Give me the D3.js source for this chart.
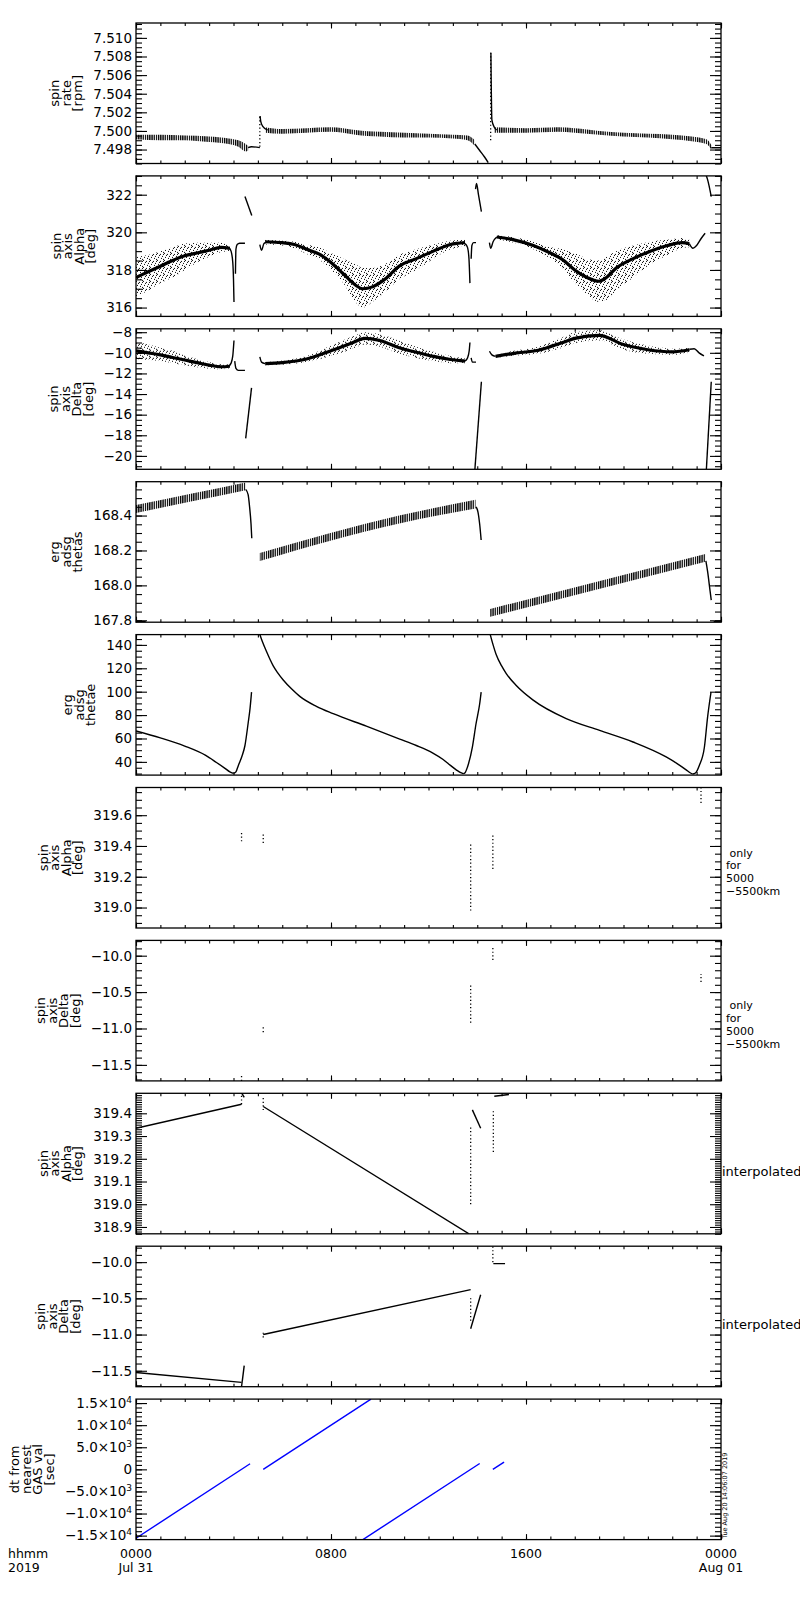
<!DOCTYPE html>
<html>
<head>
<meta charset="utf-8">
<script src="https://cdn.jsdelivr.net/npm/d3@7"></script>
<style>
body { margin: 0; background: #fff; }
svg { display: block; }
text { font-family: "DejaVu Sans", sans-serif; fill: #000; }
</style>
</head>
<body>
<svg id="chart" width="800" height="1600"></svg>
<script>
// ---- x axis (hours of 2019 Jul 31) ----
const hourTicks = [0, 8, 16, 24];
const hourLabels = [["0000", "Jul 31"], ["0800", ""], ["1600", ""], ["0000", "Aug 01"]];

// ---- tick values per panel ----
const rateTicks = [7.498, 7.500, 7.502, 7.504, 7.506, 7.508, 7.510];
const alphaTicks = [316, 318, 320, 322];
const deltaTicks = [-20, -18, -16, -14, -12, -10, -8];
const thetasTicks = [167.8, 168.0, 168.2, 168.4];
const thetaeTicks = [40, 60, 80, 100, 120, 140];
const alphaOnlyTicks = [319.0, 319.2, 319.4, 319.6];
const deltaOnlyTicks = [-11.5, -11.0, -10.5, -10.0];
const alphaInterpTicks = [318.9, 319.0, 319.1, 319.2, 319.3, 319.4];
const deltaInterpTicks = [-11.5, -11.0, -10.5, -10.0];
const dtTicks = [-15000, -10000, -5000, 0, 5000, 10000, 15000];
const dtTickLabels = [["−1.5×10", "4"], ["−1.0×10", "4"], ["−5.0×10", "3"], ["0", ""], ["5.0×10", "3"], ["1.0×10", "4"], ["1.5×10", "4"]];

// ---- spin rate [rpm]: zigzag bands [h, lo, hi] and lines [h, v] ----
const rateBandA = [[0, 7.4991, 7.4996], [1, 7.4990, 7.4996], [2, 7.4990, 7.4995], [3, 7.4988, 7.4994], [3.8, 7.4986, 7.4992], [4.2, 7.4983, 7.4990], [4.5, 7.4978, 7.4986], [4.6, 7.4979, 7.4984]];
const rateBandB = [[5.3, 7.4998, 7.5004], [6, 7.4997, 7.5002], [7, 7.4998, 7.5003], [8, 7.4999, 7.5004], [8.5, 7.4998, 7.5003], [9, 7.4996, 7.5001], [10, 7.4994, 7.4999], [11, 7.4993, 7.4998], [12, 7.4993, 7.4997], [13, 7.4992, 7.4996], [13.6, 7.4990, 7.4995], [13.9, 7.4984, 7.4990]];
const rateBandC = [[14.7, 7.4998, 7.5004], [16, 7.4998, 7.5003], [17.3, 7.4999, 7.5004], [18, 7.4998, 7.5003], [19, 7.4996, 7.5000], [20, 7.4994, 7.4998], [21, 7.4993, 7.4997], [22, 7.4991, 7.4996], [22.8, 7.4989, 7.4994], [23.4, 7.4986, 7.4991], [23.6, 7.4980, 7.4985]];
const rateLines = [
  [[4.6, 7.4982], [4.74, 7.4983], [5.08, 7.4982]],
  [[5.09, 7.5016], [5.12, 7.5010], [5.2, 7.5005], [5.4, 7.5001]],
  [[13.9, 7.4986], [14.1, 7.4979], [14.3, 7.4972], [14.45, 7.4966]],
  [[14.56, 7.5084], [14.6, 7.5012], [14.7, 7.5004], [14.8, 7.5001]],
  [[23.6, 7.4982], [24, 7.4982]]
];
const rateDots = [[5.08, 7.4983, 7.5016], [14.55, 7.4990, 7.5084]];

// ---- spin axis Alpha: scatter bands [h, lo, mid, hi] ----
const alphaBandA = [[0, 316.6, 317.6, 318.7], [0.5, 316.9, 317.9, 318.8], [1, 317.3, 318.2, 319.0], [1.5, 317.6, 318.5, 319.2], [2, 318.0, 318.75, 319.4], [2.5, 318.4, 318.9, 319.45], [3, 318.7, 319.05, 319.45], [3.5, 318.95, 319.2, 319.45], [3.85, 319.0, 319.15, 319.35]];
const alphaBandB = [[5.3, 319.35, 319.5, 319.6], [6, 319.3, 319.45, 319.55], [6.5, 319.15, 319.35, 319.5], [7, 318.85, 319.1, 319.35], [7.5, 318.55, 318.85, 319.2], [8, 318.0, 318.4, 318.9], [8.5, 317.3, 317.8, 318.6], [9, 316.3, 317.2, 318.3], [9.3, 316.0, 317.0, 318.1], [9.7, 316.3, 317.1, 318.1], [10.2, 316.8, 317.5, 318.3], [10.8, 317.5, 318.2, 318.8], [11.5, 318.0, 318.6, 319.1], [12.2, 318.6, 319.0, 319.35], [12.9, 319.1, 319.35, 319.55], [13.5, 319.25, 319.45, 319.6]];
const alphaBandC = [[14.8, 319.6, 319.75, 319.85], [15.5, 319.45, 319.6, 319.75], [16.3, 319.1, 319.3, 319.5], [17, 318.6, 318.9, 319.2], [17.5, 318.1, 318.55, 319.1], [18, 317.3, 318.0, 318.9], [18.5, 316.7, 317.6, 318.6], [19, 316.3, 317.4, 318.5], [19.3, 316.4, 317.6, 318.7], [19.7, 316.9, 318.1, 319.0], [20.4, 317.6, 318.6, 319.3], [21.1, 318.3, 319.0, 319.5], [21.8, 318.8, 319.3, 319.6], [22.4, 319.15, 319.45, 319.7], [22.7, 319.2, 319.4, 319.6]];
const alphaLines = [
  [[3.8, 319.2], [3.9, 319.0], [3.97, 318.4], [4.0, 317.5], [4.02, 316.3]],
  [[4.08, 317.8], [4.1, 319.1], [4.15, 319.35], [4.25, 319.42], [4.47, 319.42]],
  [[4.47, 321.9], [4.75, 320.9]],
  [[5.08, 319.35], [5.15, 319.05], [5.25, 319.4], [5.4, 319.5]],
  [[13.5, 319.4], [13.6, 319.2], [13.66, 318.6], [13.7, 317.3]],
  [[13.75, 318.6], [13.78, 319.3], [13.85, 319.45], [13.95, 319.45]],
  [[13.93, 322.3], [13.97, 322.6], [14.05, 322.0], [14.17, 321.1]],
  [[14.5, 319.45], [14.55, 319.15], [14.65, 319.5], [14.8, 319.75]],
  [[22.7, 319.4], [22.85, 319.15], [23.0, 319.3], [23.2, 319.7], [23.35, 319.95]],
  [[23.37, 323.1], [23.45, 322.8], [23.6, 321.9]]
];

// ---- spin axis Delta ----
const deltaBandA = [[0, -10.6, -9.8, -8.9], [0.5, -10.7, -10.0, -9.2], [1, -10.8, -10.2, -9.5], [1.5, -11.0, -10.45, -9.8], [2, -11.2, -10.7, -10.2], [2.5, -11.4, -10.95, -10.6], [3, -11.55, -11.2, -10.9], [3.5, -11.6, -11.35, -11.1], [3.85, -11.5, -11.3, -11.1]];
const deltaBandB = [[5.3, -11.2, -11.05, -10.9], [6, -11.15, -10.95, -10.75], [7, -10.9, -10.6, -10.3], [8, -10.3, -9.8, -9.3], [8.8, -9.7, -9.1, -8.5], [9.4, -9.2, -8.6, -8.0], [10, -9.4, -8.8, -8.2], [10.8, -10.1, -9.5, -8.8], [11.5, -10.5, -9.95, -9.4], [12.2, -10.8, -10.35, -9.9], [12.9, -11.0, -10.65, -10.3], [13.5, -11.0, -10.8, -10.55]];
const deltaBandC = [[14.75, -10.5, -10.35, -10.2], [15.5, -10.3, -10.05, -9.8], [16.5, -10.1, -9.75, -9.4], [17.5, -9.5, -9.0, -8.5], [18, -9.1, -8.6, -8.0], [19, -8.8, -8.3, -7.8], [20, -9.7, -9.2, -8.7], [21, -10.1, -9.7, -9.3], [22, -10.2, -9.9, -9.6], [22.7, -10.0, -9.7, -9.5]];
const deltaLines = [
  [[3.8, -11.3], [3.9, -11.0], [3.97, -10.3], [4.02, -8.8]],
  [[4.05, -10.8], [4.1, -11.5], [4.2, -11.7], [4.47, -11.7]],
  [[4.5, -18.3], [4.74, -13.4]],
  [[5.08, -10.4], [5.15, -10.9], [5.3, -11.05]],
  [[13.5, -10.8], [13.6, -10.5], [13.67, -9.8], [13.7, -9.0]],
  [[13.75, -10.5], [13.8, -10.9], [13.95, -10.9]],
  [[13.9, -21.4], [14.17, -12.8]],
  [[14.5, -9.85], [14.6, -10.2], [14.75, -10.35]],
  [[22.7, -9.65], [22.9, -9.6], [23.1, -10.0], [23.3, -10.3]],
  [[23.4, -21.3], [23.6, -12.8]]
];

// ---- erg adsg thetas: zigzag bands [h, lo, hi] ----
const thetasBandA = [[0, 168.415, 168.46], [2.25, 168.48, 168.525], [4.5, 168.545, 168.59]];
const thetasBandB = [[5.08, 168.14, 168.185], [10.8, 168.355, 168.40], [13.93, 168.44, 168.49]];
const thetasBandC = [[14.53, 167.82, 167.865], [23.36, 168.135, 168.18]];
const thetasLines = [
  [[4.5, 168.55], [4.6, 168.52], [4.66, 168.45], [4.72, 168.35], [4.75, 168.27]],
  [[13.95, 168.45], [14.03, 168.42], [14.1, 168.35], [14.16, 168.26]],
  [[23.38, 168.14], [23.45, 168.08], [23.55, 167.97], [23.6, 167.915]],
  [[0, 167.792], [0.4, 167.792]],
  [[23.7, 167.792], [24, 167.792]]
];

// ---- erg adsg thetae ----
const thetaeLines = [
  [[0, 66.4], [1, 60.5], [2, 53.5], [2.86, 45.5], [3.3, 39.5], [3.65, 34.5], [3.85, 31.5], [4.0, 30.2]],
  [[4.0, 30.2], [4.1, 31.5], [4.2, 37], [4.35, 45], [4.47, 54], [4.6, 73], [4.68, 86], [4.74, 99.6]],
  [[5.08, 149], [5.2, 142], [5.35, 134.5], [5.5, 127.5], [5.63, 122], [5.8, 116.5], [6.04, 110], [6.4, 102], [6.72, 96], [7.4, 87.5], [8.09, 81.2], [9.45, 70.5], [10.82, 59.5], [11.5, 54], [12.18, 47.5], [12.6, 42], [12.9, 37], [13.15, 33], [13.3, 31], [13.42, 30.0]],
  [[13.42, 30.0], [13.5, 30.8], [13.6, 35.7], [13.8, 52.7], [13.95, 72.6], [14.1, 89.7], [14.16, 99.6]],
  [[14.53, 149], [14.65, 140], [14.78, 131.5], [15.0, 122], [15.19, 115.5], [15.6, 105.3], [16.28, 93], [17.65, 77], [19.02, 66.9], [20.39, 57], [21.75, 44.2], [22.2, 38.5], [22.57, 33.2], [22.75, 30.5], [22.84, 29.6]],
  [[22.84, 29.6], [22.95, 30.5], [23.11, 37], [23.32, 52.7], [23.45, 78.3], [23.59, 99.6]]
];

// ---- spin axis only for 5000-5500km: vertical dot runs [h, lo, hi] ----
const alphaOnlyDots = [[4.33, 319.43, 319.49], [5.22, 319.42, 319.48], [13.73, 318.98, 319.42], [14.64, 319.25, 319.48], [23.18, 319.68, 319.78]];
const deltaOnlyDots = [[4.33, -11.72, -11.64], [5.22, -11.05, -10.97], [13.73, -10.92, -10.38], [14.64, -10.06, -9.88], [23.18, -10.36, -10.25]];

// ---- spin axis interpolated ----
const alphaInterpLines = [
  [[0, 319.334], [4.33, 319.44]],
  [[4.33, 319.49], [4.44, 319.47]],
  [[5.22, 319.43], [13.66, 318.87]],
  [[13.8, 319.415], [14.14, 319.334]],
  [[14.7, 319.475], [15.3, 319.483]]
];
const alphaInterpDots = [[4.33, 319.44, 319.49], [5.22, 319.414, 319.473], [13.73, 319.0, 319.34], [14.66, 319.23, 319.42]];
const deltaInterpLines = [
  [[0, -11.524], [4.33, -11.66]],
  [[4.33, -11.72], [4.44, -11.43]],
  [[5.22, -11.0], [13.73, -10.38]],
  [[13.73, -10.92], [14.14, -10.45]],
  [[14.66, -10.02], [15.14, -10.02]]
];
const deltaInterpDots = [[5.22, -11.04, -10.97], [13.73, -10.81, -10.5], [14.64, -10.0, -9.78]];

// ---- dt from nearest GAS val [sec] ----
const dtLines = [
  [[0, -15590], [4.68, 1260]],
  [[5.22, 0], [9.64, 15900]],
  [[9.31, -15900], [14.1, 1330]],
  [[14.64, 0], [15.1, 1650]]
];

const panels = [
  { title: ["spin", "rate", "[rpm]"], domain: [7.4965, 7.5116], ticks: rateTicks, minor: 0.0005, fmt: ".3f",
    hatch: [rateBandA, rateBandB, rateBandC], lines: rateLines, dots: rateDots },
  { title: ["spin", "axis", "Alpha", "[deg]"], domain: [315.53, 323.0], ticks: alphaTicks, minor: 0.5, fmt: "d",
    scatter: [alphaBandA, alphaBandB, alphaBandC], lines: alphaLines },
  { title: ["spin", "axis", "Delta", "[deg]"], domain: [-21.3, -7.67], ticks: deltaTicks, minor: 0.5, fmt: "d",
    scatter: [deltaBandA, deltaBandB, deltaBandC], lines: deltaLines },
  { title: ["erg", "adsg", "thetas"], domain: [167.789, 168.594], ticks: thetasTicks, minor: 0.05, fmt: ".1f",
    hatch: [thetasBandA, thetasBandB, thetasBandC], lines: thetasLines },
  { title: ["erg", "adsg", "thetae"], domain: [28.7, 148.8], ticks: thetaeTicks, minor: 5, fmt: "d",
    lines: thetaeLines },
  { title: ["spin", "axis", "Alpha", "[deg]"], domain: [318.867, 319.78], ticks: alphaOnlyTicks, minor: 0.05, fmt: ".1f",
    dots: alphaOnlyDots, note: [" only", "for", "5000", "−5500km"] },
  { title: ["spin", "axis", "Delta", "[deg]"], domain: [-11.72, -9.79], ticks: deltaOnlyTicks, minor: 0.1, fmt: ".1f",
    dots: deltaOnlyDots, note: [" only", "for", "5000", "−5500km"] },
  { title: ["spin", "axis", "Alpha", "[deg]"], domain: [318.87, 319.488], ticks: alphaInterpTicks, minor: 0.01, fmt: ".1f",
    lines: alphaInterpLines, dots: alphaInterpDots, note: ["interpolated"] },
  { title: ["spin", "axis", "Delta", "[deg]"], domain: [-11.72, -9.78], ticks: deltaInterpTicks, minor: 0.1, fmt: ".1f",
    lines: deltaInterpLines, dots: deltaInterpDots, note: ["interpolated"] },
  { title: ["dt from", "nearest", "GAS val", "[sec]"], domain: [-15900, 15900], ticks: dtTicks, minor: 1000,
    tickLabels: dtTickLabels, lines: dtLines, color: "#0000ff" }
];

const LEFT = 136, TOP = 23, PITCH = 152.9, W = 585, H = 140.5;
const svg = d3.select("#chart");
const defs = svg.append("defs");

// zigzag look of the densely sampled bands
const hatch = defs.append("pattern").attr("id", "hatch")
  .attr("patternUnits", "userSpaceOnUse").attr("width", 2.2).attr("height", 4);
hatch.append("rect").attr("width", 1.3).attr("height", 4).attr("fill", "#000");

// speckle for the scattered clouds
const speck = defs.append("pattern").attr("id", "speck")
  .attr("patternUnits", "userSpaceOnUse").attr("width", 7).attr("height", 7);
[[0, 0], [3, 1], [5, 3], [1, 4], [4, 5], [6, 6], [2, 2], [6, 1]].forEach(p =>
  speck.append("rect").attr("x", p[0]).attr("y", p[1]).attr("width", 1).attr("height", 1).attr("fill", "#000"));

const x = d3.scaleLinear().domain([0, 24]).range([0, W]);
const hourMinor = d3.range(0, 25);

function stepTicks(domain, step) {
  const lo = Math.ceil(domain[0] / step - 1e-9), hi = Math.floor(domain[1] / step + 1e-9);
  return d3.range(lo, hi + 1).map(k => +(k * step).toFixed(6));
}

panels.forEach((p, i) => {
  const g = svg.append("g").attr("transform", `translate(${LEFT},${TOP + i * PITCH})`);
  const y = d3.scaleLinear().domain(p.domain).range([H, 0]);
  const color = p.color || "#000";

  defs.append("clipPath").attr("id", "clip" + i)
    .append("rect").attr("width", W).attr("height", H);
  const plot = g.append("g").attr("clip-path", `url(#clip${i})`);

  // scatter clouds
  (p.scatter || []).forEach(band => {
    plot.append("path").datum(band)
      .attr("d", d3.area().x(d => x(d[0])).y0(d => y(d[1])).y1(d => y(d[3])).curve(d3.curveMonotoneX))
      .attr("fill", "url(#speck)");
    plot.append("path").datum(band)
      .attr("d", d3.line().x(d => x(d[0])).y(d => y(d[2])).curve(d3.curveMonotoneX))
      .attr("fill", "none").attr("stroke", "#000").attr("stroke-width", 3.2);
  });

  // zigzag bands
  (p.hatch || []).forEach(band => {
    plot.append("path").datum(band)
      .attr("d", d3.area().x(d => x(d[0])).y0(d => y(d[1])).y1(d => y(d[2])).curve(d3.curveMonotoneX))
      .attr("fill", "url(#hatch)");
  });

  // lines
  plot.selectAll("path.series").data(p.lines || []).join("path")
    .attr("class", "series")
    .attr("d", d3.line().x(d => x(d[0])).y(d => y(d[1])).curve(d3.curveMonotoneX))
    .attr("fill", "none").attr("stroke", color).attr("stroke-width", 1.4);

  // vertical dotted runs
  plot.selectAll("line.dots").data(p.dots || []).join("line")
    .attr("class", "dots")
    .attr("x1", d => x(d[0])).attr("x2", d => x(d[0]))
    .attr("y1", d => y(d[1])).attr("y2", d => y(d[2]))
    .attr("stroke", "#000").attr("stroke-width", 1.3).attr("stroke-dasharray", "1.2,2.4");

  // y axes (ticks inward), left with labels, right mirrored
  const minorY = stepTicks(p.domain, p.minor);
  g.append("g").call(d3.axisLeft(y).tickValues(minorY).tickSize(-6).tickFormat(""));
  const left = g.append("g").call(d3.axisLeft(y).tickValues(p.ticks).tickSize(-11).tickPadding(4)
    .tickFormat(p.fmt ? d3.format(p.fmt) : () => ""));
  g.append("g").attr("transform", `translate(${W},0)`).call(d3.axisRight(y).tickValues(minorY).tickSize(-6).tickFormat(""));
  g.append("g").attr("transform", `translate(${W},0)`).call(d3.axisRight(y).tickValues(p.ticks).tickSize(-11).tickFormat(""));

  if (p.tickLabels) {
    left.selectAll(".tick text").each(function (d, k) {
      const t = d3.select(this).text(p.tickLabels[k][0]);
      if (p.tickLabels[k][1]) {
        t.append("tspan").attr("dy", "-0.55em").attr("font-size", 9).text(p.tickLabels[k][1]);
      }
    });
  }

  // x axes top and bottom, ticks inward
  g.append("g").attr("transform", `translate(0,${H})`).call(d3.axisBottom(x).tickValues(hourMinor).tickSize(-3).tickFormat(""));
  g.append("g").attr("transform", `translate(0,${H})`).call(d3.axisBottom(x).tickValues(hourTicks).tickSize(-5.5).tickFormat(""));
  g.append("g").call(d3.axisTop(x).tickValues(hourMinor).tickSize(-3).tickFormat(""));
  g.append("g").call(d3.axisTop(x).tickValues(hourTicks).tickSize(-5.5).tickFormat(""));

  g.selectAll(".domain").remove();
  g.selectAll(".tick line").attr("stroke-width", 1.1);
  g.selectAll(".tick text").attr("font-size", 13.5).attr("font-family", "DejaVu Sans, sans-serif");

  g.append("rect").attr("width", W).attr("height", H)
    .attr("fill", "none").attr("stroke", "#000").attr("stroke-width", 1.3);

  // y title, stacked columns, placed left of the widest tick label
  let maxW = 0;
  left.selectAll(".tick text").each(function () { maxW = Math.max(maxW, this.getBBox().width); });
  const lastX = -4 - maxW - 11;
  const n = p.title.length;
  p.title.forEach((line, k) => {
    g.append("text")
      .attr("transform", `translate(${lastX - (n - 1 - k) * 11.5},${H / 2}) rotate(-90)`)
      .attr("text-anchor", "middle").attr("font-size", 13)
      .text(line);
  });

  // right-hand notes
  if (p.note) {
    const single = p.note.length === 1;
    const base = single ? 83 : 69;
    p.note.forEach((line, k) => {
      g.append("text").attr("x", W + (single ? 1 : 5)).attr("y", base + k * 12.8)
        .attr("font-size", single ? 13 : 11).attr("xml:space", "preserve").style("white-space", "pre").text(line);
    });
  }

  // time labels under the last panel
  if (i === panels.length - 1) {
    hourTicks.forEach((h, k) => {
      g.append("text").attr("x", x(h)).attr("y", H + 18).attr("text-anchor", "middle").attr("font-size", 12.5).text(hourLabels[k][0]);
      if (hourLabels[k][1]) {
        g.append("text").attr("x", x(h)).attr("y", H + 32.5).attr("text-anchor", "middle").attr("font-size", 12.5).text(hourLabels[k][1]);
      }
    });
    g.append("text").attr("x", 8 - LEFT).attr("y", H + 18).attr("font-size", 12.5).text("hhmm");
    g.append("text").attr("x", 8 - LEFT).attr("y", H + 32.5).attr("font-size", 12.5).text("2019");
    g.append("text").attr("transform", `translate(${W + 6},${H - 1}) rotate(-90)`)
      .attr("font-size", 6.5).text("Tue Aug 20 14:06:07 2019");
  }
});
</script>
</body>
</html>
